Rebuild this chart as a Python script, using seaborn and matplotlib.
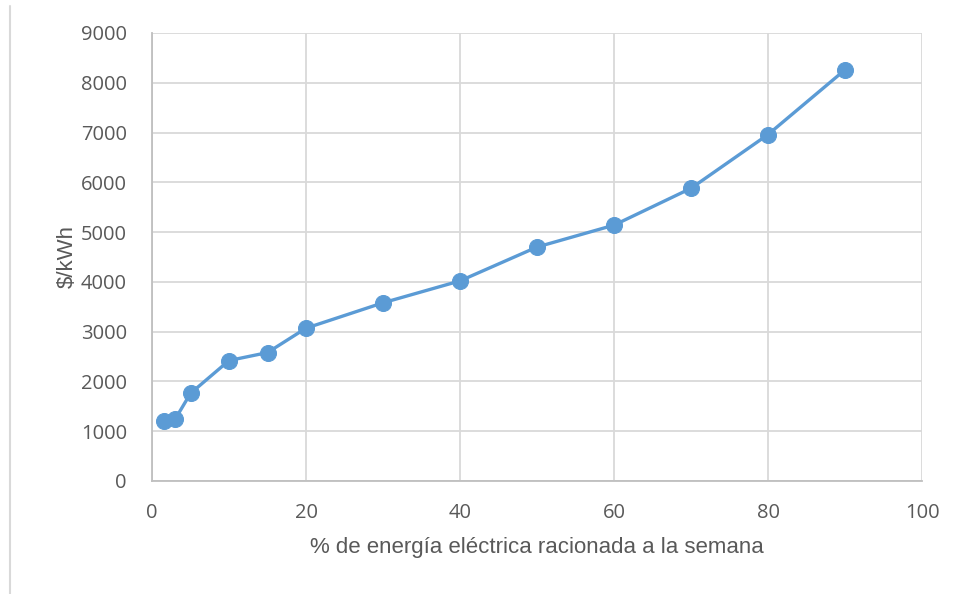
import matplotlib
matplotlib.use("Agg")
import matplotlib.pyplot as plt
import seaborn as sns
import pandas as pd

# Rationed share of weekly electricity vs. cost per kWh
racionamiento = [1.5, 3, 5, 10, 15, 20, 30, 40, 50, 60, 70, 80, 90]
costo = [1200, 1240, 1760, 2420, 2580, 3070, 3580, 4020, 4700, 5140, 5880, 6960, 8260]
x_ticks = [0, 20, 40, 60, 80, 100]
y_ticks = [0, 1000, 2000, 3000, 4000, 5000, 6000, 7000, 8000, 9000]

df = pd.DataFrame({"x": racionamiento, "y": costo})

sns.set_theme(style="white")
plt.rcParams["font.family"] = ["Open Sans", "DejaVu Sans"]

fig = plt.figure(figsize=(9.59, 5.94), dpi=100)
ax = fig.add_axes([152 / 959, 1 - 481 / 594, (922 - 152) / 959, (481 - 33) / 594])

blue = "#5B9BD5"
grid = "#D9D9D9"
txt = "#595959"
label_font = ["Liberation Sans Narrow", "Liberation Sans", "DejaVu Sans"]

sns.lineplot(data=df, x="x", y="y", ax=ax, color=blue, linewidth=2.4,
             marker="o", markersize=11.5, markeredgecolor=blue,
             markerfacecolor=blue, zorder=3)

ax.set_xlim(0, 100)
ax.set_ylim(0, 9000)
ax.set_xticks(x_ticks)
ax.set_yticks(y_ticks)
ax.grid(True, color=grid, linewidth=1.3)
ax.set_axisbelow(True)
for side in ["top", "right"]:
    ax.spines[side].set_visible(False)
for side in ["left", "bottom"]:
    ax.spines[side].set_color("#BFBFBF")
    ax.spines[side].set_linewidth(1.3)
ax.tick_params(axis="both", length=0, labelsize=14.5, labelcolor=txt)
ax.tick_params(axis="x", pad=16)
ax.tick_params(axis="y", pad=18)

ax.set_xlabel("% de energía eléctrica racionada a la semana",
              fontsize=16, color=txt, labelpad=10, family=label_font)
ax.set_ylabel("$/kWh", fontsize=16, color=txt, labelpad=2, family=label_font)

# thin frame line at the left edge of the figure
fig.add_artist(plt.Line2D([10 / 959, 10 / 959], [0, 1 - 6 / 594],
                          transform=fig.transFigure, color="#D9D9D9", linewidth=1.5))

fig.savefig("out.png", dpi=100)
